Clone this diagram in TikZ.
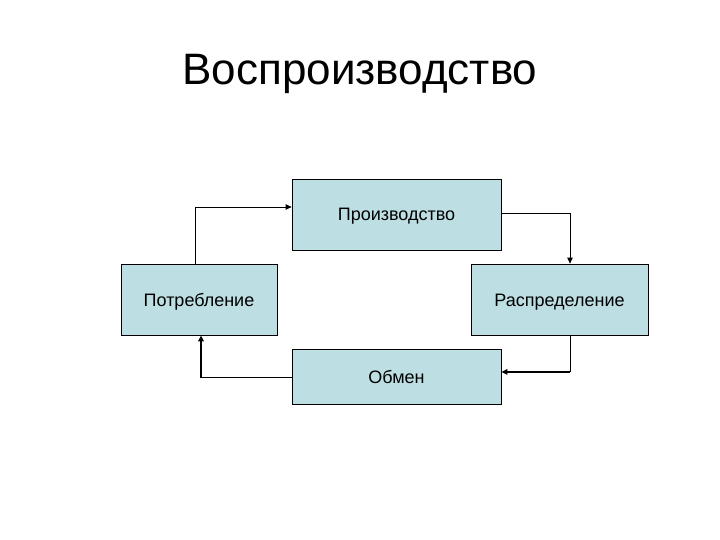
\documentclass[tikz,border=0pt]{standalone}
\usepackage{fontspec}
\setmainfont{Liberation Sans}
\usetikzlibrary{arrows.meta,positioning}
\definecolor{cBox}{HTML}{BDDFE3}

\begin{document}
\begin{tikzpicture}[x=1pt, y=-1pt, >=Triangle,
  stage/.style={draw=black, line width=0.8pt, fill=cBox, align=center,
                font=\fontsize{18}{21}\selectfont, minimum height=71pt, inner sep=0pt,
                text height=14pt, text depth=1pt},
  ar/.style={-{Triangle[length=6pt,width=5.5pt]}, line width=0.8pt},
  arb/.style={ar, line width=1.6pt}]

  % page frame
  \useasboundingbox (0,0) rectangle (720,540);

  % title
  \node[font=\fontsize{44}{52}\selectfont] (title) at (360,74) {Воспроизводство};

  % the four stages of the cycle
  \node[stage, minimum width=209pt] (proizv) at (396.5,214.5) {Производство};
  \node[stage, minimum width=156pt] (potr) at (199,299.5) {Потребление};
  \node[stage, minimum width=177pt] (raspr) at (559.5,299.5) {Распределение};
  \node[stage, minimum width=209pt, minimum height=55pt] (obmen) at (396.5,376.5) {Обмен};

  % cycle connectors
  \draw[ar] ([xshift=-4pt]potr.north) |- ([yshift=7.5pt]proizv.west);
  \draw[ar] ([yshift=1.5pt]proizv.east) -| ([xshift=10.5pt]raspr.north);
  \draw[line width=0.8pt] ([xshift=10.5pt]raspr.south) -- ++(0,36.5) coordinate (rc);
  \draw[arb] (rc) -- (rc -| obmen.east);
  \draw[arb] ([yshift=-1pt]obmen.west) -| ([xshift=2pt]potr.south);
\end{tikzpicture}
\end{document}
